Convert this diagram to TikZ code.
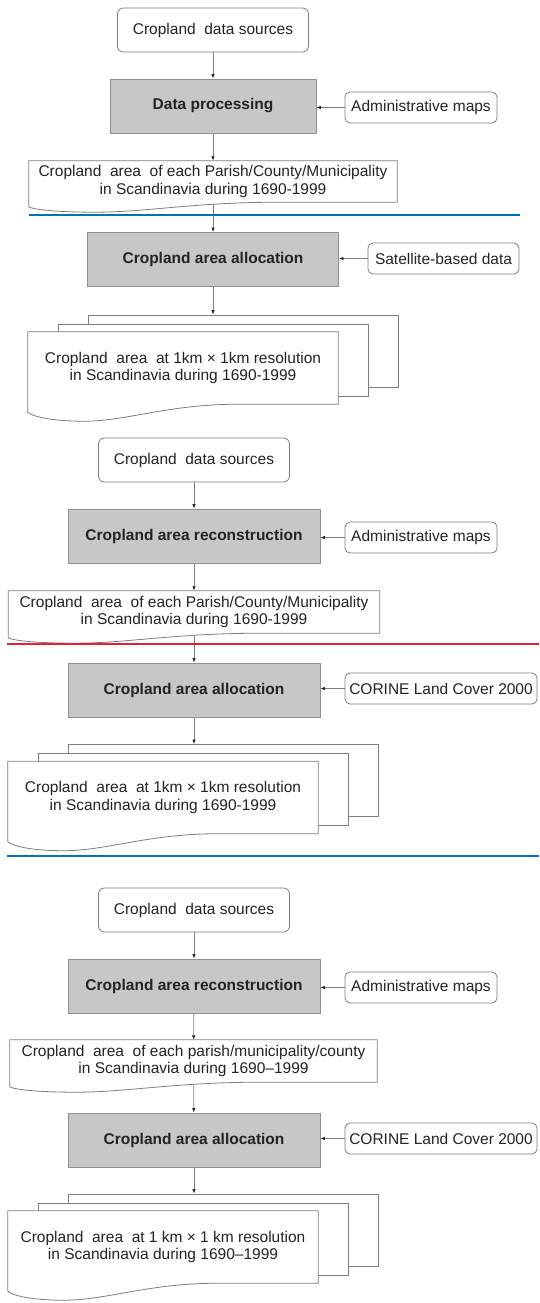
\documentclass[tikz,border=0pt]{standalone}
\usepackage{fontspec}
\setmainfont{Liberation Sans}
\usetikzlibrary{arrows.meta,calc}

\pgfdeclarelayer{wires}
\pgfdeclarelayer{paper}
\pgfsetlayers{wires,paper,main}

\definecolor{boxgray}{RGB}{201,199,198}
\definecolor{edgegray}{RGB}{125,125,125}
\definecolor{inkgray}{RGB}{35,35,35}
\definecolor{ruleblue}{RGB}{0,112,192}
\definecolor{rulered}{RGB}{225,35,45}

\newcommand{\docoutline}[2]{%
  \path[docline] (#1.north west) -- (#1.north east) -- (#1.south east)
    -- ($(#1.south west)!0.68!(#1.south east)$)
    .. controls ($(#1.south west)!0.45!(#1.south east)$) and ($(#1.south west)!0.32!(#1.south east)+(0,#2)$)
    .. ($(#1.south west)!0.18!(#1.south east)+(0,#2)$)
    .. controls ($(#1.south west)!0.07!(#1.south east)+(0,#2)$) and ($(#1.south west)+(4,0.7*#2)$)
    .. ($(#1.south west)+(0,0.47*#2)$) -- cycle;}

\begin{document}
\begin{tikzpicture}[x=1pt,y=-1pt,font=\fontsize{15.5}{17.5}\selectfont,text=inkgray]
            \tikzstyle{srcbox}=[draw=edgegray,rounded corners=6pt,minimum width=191pt,minimum height=44pt,line width=0.8pt]
            \tikzstyle{stepbox}=[draw=edgegray!85,fill=boxgray,minimum height=54pt,font=\fontsize{15.5}{17.5}\selectfont\bfseries,line width=0.8pt]
            \tikzstyle{sidebox}=[draw=edgegray,rounded corners=5pt,minimum height=31pt,inner xsep=2pt,line width=0.8pt]
            \tikzstyle{doctext}=[align=center,inner sep=1pt,execute at begin node=\rule{0pt}{17pt}]
            \tikzstyle{page}=[draw=edgegray,fill=white,minimum width=310pt,minimum height=72pt,line width=0.8pt]
            \tikzstyle{docline}=[draw=edgegray,fill=white,line width=0.8pt]
            \tikzstyle{link}=[draw=edgegray,line width=0.8pt,-{Latex[length=4.5pt,width=3.5pt,color=inkgray]}]

            \useasboundingbox (0,0) rectangle (539,1303);

            \node [srcbox] (src1) at (213,30) {Cropland\ \ data sources};
            \node [stepbox,minimum width=206pt] (proc1) at (213,106) {Data processing};
            \node [sidebox,minimum width=152pt] (adm1) at (421,107.5) {Administrative maps};
            \node [doctext,minimum width=368pt,minimum height=41pt] (doc1) at (213,181.5)
                {Cropland\ \ area\ \ of each Parish/County/Municipality\\in Scandinavia during 1690-1999};
            \node [stepbox,minimum width=251pt] (alloc1) at (213,259.5) {Cropland area allocation};
            \node [sidebox,minimum width=151pt] (sat1) at (443.5,258.5) {Satellite-based data};
            \node [doctext,minimum width=310pt,minimum height=72pt] (grid1) at (183,368)
                {Cropland\ \ area\ \ at 1km × 1km resolution\\in Scandinavia during 1690-1999};

            \node [srcbox] (src2) at (194,460) {Cropland\ \ data sources};
            \node [stepbox,minimum width=252pt] (recon2) at (194,536) {Cropland area reconstruction};
            \node [sidebox,minimum width=152pt] (adm2) at (421,537.5) {Administrative maps};
            \node [doctext,minimum width=371pt,minimum height=42pt] (doc2) at (194,612)
                {Cropland\ \ area\ \ of each Parish/County/Municipality\\in Scandinavia during 1690-1999};
            \node [stepbox,minimum width=252pt] (alloc2) at (194,690) {Cropland area allocation};
            \node [sidebox,minimum width=192pt] (clc2) at (441,688.5) {CORINE Land Cover 2000};
            \node [doctext,minimum width=310pt,minimum height=72pt] (grid2) at (163,797.5)
                {Cropland\ \ area\ \ at 1km × 1km resolution\\in Scandinavia during 1690-1999};

            \node [srcbox] (src3) at (194,910) {Cropland\ \ data sources};
            \node [stepbox,minimum width=252pt] (recon3) at (194,986) {Cropland area reconstruction};
            \node [sidebox,minimum width=152pt] (adm3) at (421,987.5) {Administrative maps};
            \node [doctext,minimum width=367pt,minimum height=42pt] (doc3) at (193.5,1061)
                {Cropland\ \ area\ \ of each parish/municipality/county\\in Scandinavia during 1690--1999};
            \node [stepbox,minimum width=252pt] (alloc3) at (194,1140) {Cropland area allocation};
            \node [sidebox,minimum width=192pt] (clc3) at (441,1138.5) {CORINE Land Cover 2000};
            \node [doctext,minimum width=310pt,minimum height=72pt] (grid3) at (163,1247)
                {Cropland\ \ area\ \ at 1 km × 1 km resolution\\in Scandinavia during 1690--1999};

            % stacked pages behind the grid outputs
            \begin{pgfonlayer}{paper}
                \foreach \g in {1,2,3} {
                    \node [page] (back\g) at ($(grid\g)+(60,-17)$) {};
                    \node [page] (mid\g) at ($(grid\g)+(30,-8)$) {};
                    \docoutline{grid\g}{17}
                    \docoutline{doc\g}{10}
                }
            \end{pgfonlayer}

            \begin{pgfonlayer}{wires}
                \draw [link] (src1) -- (proc1);
                \draw [link] (adm1.west) -- (adm1.west -| proc1.east);
                \draw [link] (proc1) -- (doc1);
                \draw [link] (doc1) -- (alloc1);
                \draw [link] (sat1.west) -- (sat1.west -| alloc1.east);
                \draw [link] (alloc1.south) -- (alloc1.south |- back1.north);

                \draw [link] (src2) -- (recon2);
                \draw [link] (adm2.west) -- (adm2.west -| recon2.east);
                \draw [link] (recon2) -- (doc2);
                \draw [link] (doc2) -- (alloc2);
                \draw [link] (clc2.west) -- (clc2.west -| alloc2.east);
                \draw [link] (alloc2.south) -- (alloc2.south |- back2.north);

                \draw [link] (src3) -- (recon3);
                \draw [link] (adm3.west) -- (adm3.west -| recon3.east);
                \draw [link] (recon3) -- (doc3);
                \draw [link] (doc3) -- (alloc3);
                \draw [link] (clc3.west) -- (clc3.west -| alloc3.east);
                \draw [link] (alloc3.south) -- (alloc3.south |- back3.north);
            \end{pgfonlayer}

            \draw [ruleblue,line width=2pt] (29,215) -- (520,215);
            \draw [rulered,line width=1.3pt] (7,644) -- (539,644);
            \draw [ruleblue,line width=2pt] (7,856) -- (539,856);
        \end{tikzpicture}
\end{document}
